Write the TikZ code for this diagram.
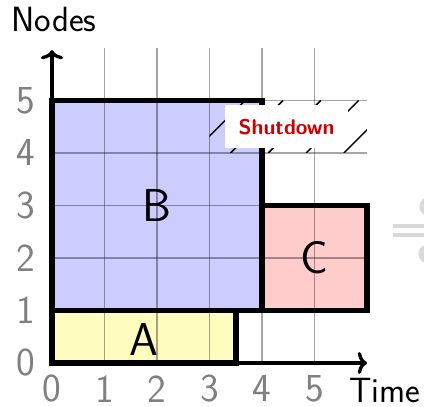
\documentclass[tikz,border=0pt]{standalone}
\usetikzlibrary{arrows.meta}
\begin{document}
\begin{tikzpicture}[font=\sffamily,
    jobbox/.style={draw, line width=3.1pt},
    gridline/.style={black, opacity=0.35, line width=0.6pt},
    ticklab/.style={text=gray, font=\sffamily\fontsize{21.5}{21.5}\selectfont},
    joblab/.style={font=\sffamily\fontsize{25}{25}\selectfont},
    axislab/.style={font=\sffamily\fontsize{19}{19}\selectfont}]
  \useasboundingbox (-0.99,-0.838) rectangle (7.086,6.914);
  \clip (-0.99,-0.838) rectangle (7.086,6.914);
  % job areas
  \fill[yellow!25] (0,0) rectangle (3.5,1);
  \fill[blue!20] (0,1) rectangle (4,5);
  \fill[red!20] (4,1) rectangle (6,3);
  % grid
  \foreach \i in {1,...,5}{
    \draw[gridline] (\i,0) -- (\i,6);
    \draw[gridline] (0,\i) -- (6,\i);
  }
  % shutdown window
  \begin{scope}
    \clip (3,4) rectangle (6,5);
    \foreach \s in {1.96,2.68,...,6.3}
      \draw[thick] (\s,4) -- ++(1,1);
  \end{scope}
  % job borders
  \draw[jobbox] (0,0) rectangle (3.5,1);
  \draw[jobbox] (0,1) rectangle (4,5);
  \draw[jobbox] (4,1) rectangle (6,3);
  \node[joblab] (A) at (1.75,0.45) {A};
  \node[joblab] (B) at (2,3) {B};
  \node[joblab] (C) at (5,2) {C};
  \node[fill=white, text=red!80!black, minimum width=2.34cm, minimum height=0.82cm,
        font=\sffamily\bfseries\fontsize{11.5}{11.5}\selectfont] (shut) at (4.47,4.5) {Shutdown};
  % axes
  \draw[-{To[length=5pt,width=12pt]}, line width=1.8pt] (0,0) -- (6,0);
  \draw[-{To[length=5pt,width=12pt]}, line width=1.8pt] (0,0) -- (0,5.96);
  \foreach \i in {0,...,5}{
    \node[ticklab] (x\i) at (\i,-0.49) {\i};
    \node[ticklab] (y\i) at (-0.5,\i) {\i};
  }
  \node[axislab] (ylab) at (0.04,6.55) {Nodes};
  \node[axislab] (xlab) at (6.34,-0.52) {Time};
  % cut-off symbol at the edge
  \fill[gray!30] (6.49,2.57) rectangle (7.2,2.65);
  \fill[gray!30] (6.49,2.40) rectangle (7.2,2.48);
  \fill[gray!30] (7.2,2.98) ellipse (0.2 and 0.19);
  \fill[gray!30] (7.18,2.08) ellipse (0.2 and 0.19);
\end{tikzpicture}
\end{document}
